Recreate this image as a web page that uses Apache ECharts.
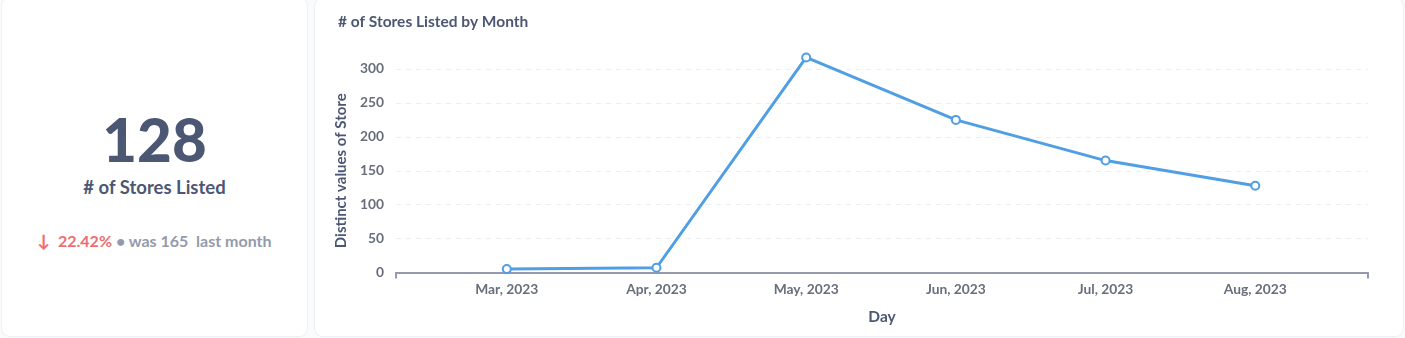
<!DOCTYPE html>
<html>
<head>
<meta charset="utf-8">
<script src="https://cdn.jsdelivr.net/npm/echarts@6/dist/echarts.min.js"></script>
<style>
  html, body { margin: 0; padding: 0; width: 1405px; height: 338px; background: #f9fbfc; overflow: hidden; font-family: Lato, "Noto Sans", sans-serif; }
  .card { position: absolute; background: #fff; border-radius: 8px; box-shadow: 0 0 0 1px #eef0f3, 0 1px 3px rgba(0,0,0,0.04); }
  #kpi { left: 2px; top: -2px; width: 305px; height: 338px; }
  #chartCard { left: 315px; top: -2px; width: 1088px; height: 338px; }
  #chart { position: absolute; left: 0; top: 0; width: 1405px; height: 338px; }
  .big { position: absolute; left: 2px; width: 305px; top: 101px; text-align: center; font-size: 60px; font-weight: 900; color: #4c5773; line-height: 76px; }
  .lbl { position: absolute; left: 2px; width: 305px; top: 176px; text-align: center; font-size: 18.5px; font-weight: 700; color: #4c5773; }
  .cmp { position: absolute; left: 2px; width: 305px; top: 230px; text-align: center; font-size: 16px; font-weight: 700; color: #949aab; white-space: pre; }
  .red { color: #ed6e6e; }
  .arr { font-weight: 900; font-size: 17px; }
</style>
</head>
<body>
<div class="card" id="kpi"></div>
<div class="card" id="chartCard"></div>
<div class="big" id="kpiValue"></div>
<div class="lbl" id="kpiLabel"></div>
<div class="cmp" id="kpiCmp"></div>
<div id="chart"></div>
<script>
const kpiValue = "128";
const kpiLabel = "# of Stores Listed";
const kpiChange = "22.42%";
const kpiPrev = "was 165";
const kpiPeriod = "last month";

const categories = ["Mar, 2023", "Apr, 2023", "May, 2023", "Jun, 2023", "Jul, 2023", "Aug, 2023"];
const values = [5, 7, 317, 225, 165, 128];
const yTicks = [0, 50, 100, 150, 200, 250, 300];

document.getElementById('kpiValue').textContent = kpiValue;
document.getElementById('kpiLabel').textContent = kpiLabel;
document.getElementById('kpiCmp').innerHTML =
  '<span class="red"><span class="arr">\u2193</span>&nbsp; ' + kpiChange + '</span> \u2022 ' + kpiPrev + '  ' + kpiPeriod;

const chart = echarts.init(document.getElementById('chart'), null, { renderer: 'canvas' });
const idx = categories.map((c, i) => i);
chart.setOption({
  backgroundColor: 'transparent',
  animation: false,
  title: {
    text: '# of Stores Listed by Month',
    left: 333, top: 9,
    textStyle: { fontFamily: 'Lato', fontSize: 15.5, fontWeight: 'bold', color: '#4c5773' }
  },
  grid: { left: 396, right: 37, top: 69, bottom: 65.5, containLabel: false },
  xAxis: {
    type: 'value',
    min: -0.74, max: 5.753,
    name: 'Day',
    nameLocation: 'middle',
    nameGap: 36,
    nameTextStyle: { fontFamily: 'Lato', fontSize: 15.5, fontWeight: 'bold', color: '#4c5773' },
    axisLine: { show: true, lineStyle: { color: '#949aab', width: 2 } },
    axisTick: { show: true, customValues: [-0.74, 5.753], length: 6, lineStyle: { color: '#949aab', width: 2 } },
    axisLabel: {
      customValues: idx,
      formatter: v => categories[Math.round(v)] || '',
      fontFamily: 'Lato', fontSize: 13.8, fontWeight: 'bold', color: '#696e7b', margin: 10
    },
    splitLine: { show: false }
  },
  yAxis: {
    type: 'value',
    min: yTicks[0], max: yTicks[yTicks.length - 1], interval: 50,
    name: 'Distinct values of Store',
    nameLocation: 'middle',
    nameGap: 40,
    nameRotate: 90,
    nameTextStyle: { fontFamily: 'Lato', fontSize: 15, fontWeight: 'bold', color: '#4c5773' },
    axisLine: { show: false },
    axisTick: { show: false },
    axisLabel: { fontFamily: 'Lato', fontSize: 13.8, fontWeight: 'bold', color: '#696e7b', margin: 12 },
    splitLine: { show: true, lineStyle: { color: '#eceff2', type: [5, 5], width: 1 } }
  },
  series: [{
    type: 'line',
    data: idx.map(i => [i, values[i]]),
    clip: false,
    symbol: 'circle',
    symbolSize: 8,
    showAllSymbol: true,
    lineStyle: { color: '#509ee3', width: 3 },
    itemStyle: { color: '#ffffff', borderColor: '#509ee3', borderWidth: 2 }
  }]
});
</script>
</body>
</html>
